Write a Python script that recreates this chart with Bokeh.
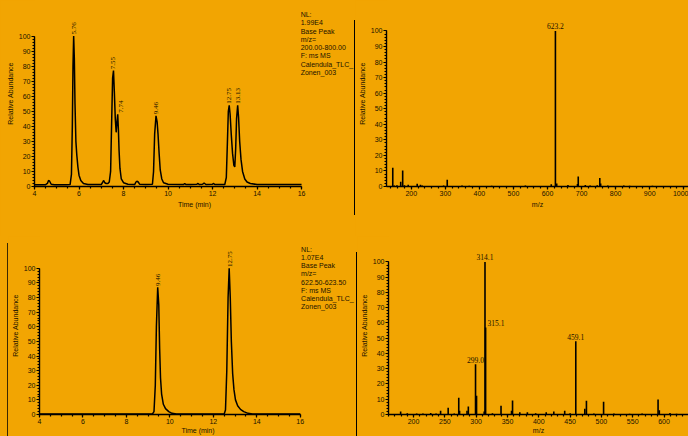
from bokeh.plotting import figure
from bokeh.layouts import row, column
from bokeh.models import ColumnDataSource, LabelSet, Label, Div, Spacer, SingleIntervalTicker, Range1d
from bokeh.embed import file_html
from bokeh.resources import INLINE

BG = "#F2A502"
FONT = "Liberation Sans"
INK = "#1a1200"

# ---------------- data ----------------
# Top-left chromatogram (Base Peak m/z 200-800)
tl_time = [4.00, 4.50, 4.58, 4.63, 4.68, 4.75, 4.90, 5.40, 5.60, 5.66, 5.70, 5.73, 5.76, 5.79, 5.82,
           5.86, 5.90, 5.95, 6.00, 6.08, 6.20, 6.40, 7.00, 7.07, 7.11, 7.16, 7.22, 7.30, 7.36, 7.42,
           7.47, 7.51, 7.55, 7.59, 7.63, 7.67, 7.70, 7.74, 7.77, 7.80, 7.84, 7.90, 8.00, 8.20, 8.50,
           8.56, 8.60, 8.66, 8.72, 9.00, 9.30, 9.35, 9.40, 9.46, 9.51, 9.55, 9.60, 9.65, 9.72, 9.80,
           10.00, 10.70, 10.75, 10.80, 11.00, 11.30, 11.35, 11.40, 11.55, 11.62, 11.70, 12.00, 12.05,
           12.10, 12.55, 12.62, 12.67, 12.71, 12.75, 12.79, 12.84, 12.90, 12.96, 13.00, 13.04, 13.08,
           13.13, 13.17, 13.22, 13.28, 13.35, 13.45, 13.55, 13.70, 14.00, 16.00]
tl_abund = [1.2, 1.2, 2.0, 4.0, 3.5, 1.5, 1.2, 1.2, 1.3, 8, 40, 80, 100, 85, 55,
            30, 21, 13, 7.5, 4, 2, 1.3, 1.3, 3, 4, 2.5, 2, 2, 3, 10,
            45, 72, 77, 62, 45, 36, 42, 48, 38, 24, 12, 5, 2.5, 1.5, 1.3,
            3, 3.5, 3, 1.5, 1.3, 1.5, 10, 35, 47, 43, 35, 22, 11, 5, 2.5,
            1.5, 1.3, 2, 1.3, 1.3, 1.5, 2, 1.3, 1.5, 2.3, 1.3, 1.5, 2,
            1.3, 1.3, 6, 30, 50, 54, 48, 35, 22, 14, 13, 25, 45,
            54, 46, 30, 18, 10, 5, 3, 2, 1.3, 1.3]
tl_peak_t = [5.76, 7.55, 7.74, 9.46, 12.75, 13.13]
tl_peak_h = [100, 77, 48, 47, 54, 54]
tl_peak_lbl = ["5.76", "7.55", "7.74", "9.46", "12.75", "13.13"]
tl_peak_dx = [0, 0, 3, 0, 0, 0]
tl_info = ["NL:", "1.99E4", "Base Peak", "m/z=", "200.00-800.00", "F: ms   MS", "Calendula_TLC_", "Zonen_003"]

# Bottom-left chromatogram (m/z 622.5-623.5)
bl_time = [4.0, 9.20, 9.27, 9.33, 9.38, 9.44, 9.49, 9.53, 9.57, 9.62, 9.70, 9.80, 9.95, 10.1, 10.3,
           12.50, 12.56, 12.62, 12.68, 12.73, 12.78, 12.83, 12.89, 12.95, 13.02, 13.12, 13.25, 13.40,
           13.60, 13.80, 16.0]
bl_abund = [0.4, 0.4, 2, 20, 60, 87, 75, 45, 25, 14, 7, 4, 2, 0.8, 0.4,
            0.4, 3, 30, 80, 100, 80, 50, 28, 17, 10, 6, 3.5, 2, 0.8, 0.4, 0.4]
bl_peak_t = [9.46, 12.75]
bl_peak_h = [87, 100]
bl_peak_lbl = ["9.46", "12.75"]
bl_info = ["NL:", "1.07E4", "Base Peak", "m/z=", "622.50-623.50", "F: ms   MS", "Calendula_TLC_", "Zonen_003"]

# Top-right mass spectrum
tr_mz = [145.7, 150.0, 158.0, 169.0, 174.8, 180.0, 191.0, 217.4, 227.0, 232.0, 260.0, 280.0, 295.0,
         305.6, 320.0, 349.0, 370.0, 400.0, 436.0, 480.0, 535.0, 570.0, 590.0, 611.0, 623.2, 627.0,
         660.0, 688.0, 690.2, 711.0, 725.0, 746.0, 753.5, 756.0, 777.0, 800.0, 824.0, 841.0, 870.0,
         908.0, 950.0]
tr_int = [12.0, 0.6, 0.8, 3.0, 10.3, 0.8, 1.2, 1.8, 1.2, 0.7, 0.4, 0.4, 0.6,
          4.3, 0.4, 0.6, 0.5, 0.3, 0.5, 0.3, 0.6, 0.4, 0.4, 1.5, 100, 2.0,
          1.0, 1.6, 6.5, 1.0, 0.6, 0.8, 5.5, 2.0, 0.7, 0.4, 0.7, 0.5, 0.3,
          0.5, 0.3]
tr_lbl_mz = [623.2]
tr_lbl_int = [100]
tr_lbl = ["623.2"]

# Bottom-right mass spectrum
br_mz = [179.4, 190.0, 205.0, 215.0, 227.4, 236.0, 243.2, 255.3, 265.0, 272.2, 273.5, 285.4, 287.5,
         299.0, 300.6, 312.8, 314.1, 315.1, 326.0, 339.7, 356.5, 358.1, 369.7, 381.8, 395.0, 411.9,
         424.0, 441.4, 450.0, 459.1, 473.5, 476.1, 488.0, 503.5, 520.0, 545.0, 565.0, 590.5, 592.5,
         609.5, 620.0]
br_int = [2.0, 0.8, 0.6, 0.7, 1.0, 0.6, 2.5, 4.5, 0.6, 11.0, 2.5, 2.5, 5.3,
          33.0, 12.3, 2.0, 100, 57, 0.8, 5.7, 2.5, 9.1, 1.5, 1.5, 0.8, 1.5,
          2.0, 2.5, 0.8, 48, 3.8, 9.0, 0.7, 8.3, 0.6, 0.5, 0.6, 9.8, 2.8,
          1.0, 0.5]
br_lbl_mz = [314.1, 315.1, 299.0, 459.1]
br_lbl_int = [100, 57, 33, 48]
br_lbl = ["314.1", "315.1", "299.0", "459.1"]
br_lbl_dx = [0, 2, 0, 0]
br_lbl_align = ["center", "left", "center", "center"]


def make_fig(xr, yr, w, h, bl, bb, xb, xlabel):
    p = figure(x_range=Range1d(*xr), y_range=Range1d(*yr), width=w, height=h,
               min_border_left=bl, min_border_right=0, min_border_top=0, min_border_bottom=bb,
               output_backend="svg", toolbar_location=None)
    p.background_fill_color = BG
    p.border_fill_color = BG
    p.outline_line_color = None
    p.xgrid.visible = False
    p.ygrid.visible = False
    for ax in p.axis:
        ax.axis_line_color = "black"
        ax.axis_line_width = 1.4
        ax.major_tick_line_color = "black"
        ax.minor_tick_line_color = "black"
        ax.major_tick_line_width = 1.2
        ax.minor_tick_line_width = 1.2
        ax.major_tick_out = 3
        ax.major_tick_in = 0
        ax.minor_tick_out = 2
        ax.minor_tick_in = 0
        ax.major_label_text_font = FONT
        ax.major_label_text_font_size = "7px"
        ax.major_label_text_color = INK
        ax.major_label_standoff = 1
        ax.axis_label_text_font = FONT
        ax.axis_label_text_font_size = "7px"
        ax.axis_label_text_font_style = "normal"
        ax.axis_label_text_color = INK
        ax.axis_label_standoff = 2
    p.yaxis.ticker = SingleIntervalTicker(interval=10, num_minor_ticks=5)
    p.yaxis.bounds = (0, 100)
    p.xaxis.bounds = xb
    p.yaxis.axis_label = "Relative Abundance"
    p.xaxis.axis_label = xlabel
    return p


def info_block(p, lines, x, y0, dy):
    for i, t in enumerate(lines):
        p.add_layout(Label(x=x, y=y0 - i * dy, text=t, text_font=FONT, text_font_size="7px",
                           text_color=INK, text_align="left", text_baseline="middle"))


# ---------- top-left ----------
p1 = make_fig((4, 18.38), (0, 123.6), 354, 236, 34, 50, (4, 16), "Time (min)")
p1.xaxis.ticker = SingleIntervalTicker(interval=2, num_minor_ticks=4)
p1.line(tl_time, tl_abund, line_color="black", line_width=1.5)
src1 = ColumnDataSource(dict(x=tl_peak_t, y=[h + 1 for h in tl_peak_h], t=tl_peak_lbl, dx=tl_peak_dx))
p1.add_layout(LabelSet(x="x", y="y", text="t", source=src1, x_offset="dx", angle=1.5708, text_align="left",
                       text_baseline="middle", text_font=FONT, text_font_size="7px", text_color=INK))
info_block(p1, tl_info, 15.96, 114.3, 5.5)

# ---------- top-right ----------
p2 = make_fig((127.3, 1013.9), (0, 119.6), 333, 236, 28, 49, (127.3, 1013.9), "m/z")
p2.xaxis.ticker = SingleIntervalTicker(interval=100, num_minor_ticks=5)
p2.segment(x0=tr_mz, y0=[0] * len(tr_mz), x1=tr_mz, y1=tr_int, line_color="black", line_width=1.6)
src2 = ColumnDataSource(dict(x=tr_lbl_mz, y=[v + 1 for v in tr_lbl_int], t=tr_lbl))
p2.add_layout(LabelSet(x="x", y="y", text="t", source=src2, text_align="center",
                       text_baseline="bottom", text_font=FONT, text_font_size="7.5px", text_color=INK))

# ---------- bottom-left ----------
p3 = make_fig((4, 18.59), (0, 121.8), 348, 200, 28, 18, (4, 16), "Time (min)")
p3.xaxis.ticker = SingleIntervalTicker(interval=2, num_minor_ticks=4)
p3.xaxis.axis_label_standoff = 0
p3.line(bl_time, bl_abund, line_color="black", line_width=1.5)
src3 = ColumnDataSource(dict(x=bl_peak_t, y=[h + 1 for h in bl_peak_h], t=bl_peak_lbl))
p3.add_layout(LabelSet(x="x", y="y", text="t", source=src3, angle=1.5708, text_align="left",
                       text_baseline="middle", text_font=FONT, text_font_size="7px", text_color=INK))
info_block(p3, bl_info, 16.04, 112.8, 5.55)

# ---------- bottom-right ----------
p4 = make_fig((160, 639.1), (0, 116.7), 331, 200, 28, 18, (160, 639.1), "m/z")
p4.xaxis.ticker = SingleIntervalTicker(interval=50, num_minor_ticks=5)
p4.xaxis.axis_label_standoff = 0
p4.segment(x0=br_mz, y0=[0] * len(br_mz), x1=br_mz, y1=br_int, line_color="black", line_width=1.6)
src4 = ColumnDataSource(dict(x=br_lbl_mz, y=[v + 1 for v in br_lbl_int], t=br_lbl,
                             dx=br_lbl_dx, al=br_lbl_align))
p4.add_layout(LabelSet(x="x", y="y", text="t", source=src4, x_offset="dx", text_align="al",
                       text_baseline="bottom", text_font=FONT, text_font_size="7.5px", text_color=INK))

div_top = Div(width=1, height=195, margin=(20, 0, 0, 0), styles={"background-color": "black"})
div_left = Div(width=1, height=193, margin=(7, 0, 0, 0), styles={"background-color": "#3a2800"})
div_bot = Div(width=1, height=184, margin=(16, 0, 0, 0), styles={"background-color": "black"})

layout = column(row(p1, div_top, p2),
                row(Spacer(width=7, height=200), div_left, p3, div_bot, p4),
                styles={"background-color": BG, "box-shadow": "0 0 0 40px " + BG})

open("out.html", "w").write(file_html(layout, INLINE))
